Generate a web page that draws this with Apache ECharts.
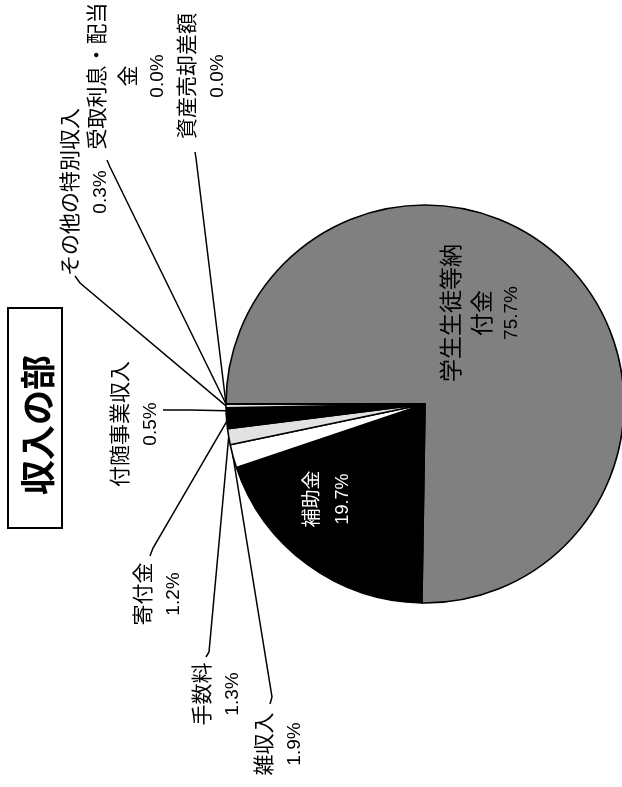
<!DOCTYPE html>
<html>
<head>
<meta charset="utf-8">
<title>収入の部</title>
<script src="https://cdn.jsdelivr.net/npm/echarts@6/dist/echarts.min.js"></script>
<style>
  html, body { margin: 0; padding: 0; background: #fff; }
  #chart { width: 622px; height: 787px; }
</style>
</head>
<body>
<div id="chart"></div>
<script>
// 収入の部 構成比（%）
const categories = ['学生生徒等納付金', '補助金', '雑収入', '手数料', '寄付金', '付随事業収入', 'その他の特別収入', '受取利息・配当金', '資産売却差額']
const shares = [75.7, 19.7, 1.9, 1.3, 1.2, 0.5, 0.3, 0.0, 0.0]
const sliceColors = ['#808080', '#000', '#fff', '#e2e2e2', '#000', '#000', '#e2e2e2', '#fff', '#fff']

// ラベルブロックの中心と引出線の折れ点・終点（画面座標）
const labelSpots = [
  { x: 481, y: 313 },
  { x: 327, y: 499 },
  { x: 279, y: 744, line: [[272, 697], [270, 704]] },
  { x: 217, y: 694, line: [[209, 652], [206, 657]] },
  { x: 158, y: 594, line: [[153, 548], [150, 556]] },
  { x: 135, y: 424, line: [[190, 410], [163, 410]] },
  { x: 85, y: 192, line: [[80, 283], [75, 276]] },
  { x: 127, y: 76, line: [[110, 167], [107, 160]] },
  { x: 202, y: 76, line: [[196, 158], [195, 152]] }
]

// 長い項目名の改行位置
const wrapAt = { '学生生徒等納付金': 6, '受取利息・配当金': 7 }

const jpFont = '"Noto Sans CJK JP", sans-serif'
const numFont = '"Liberation Sans Narrow", "Arial Narrow", "Liberation Sans", sans-serif'

const chart = echarts.init(document.getElementById('chart'))

const splitName = (name) => {
  const n = wrapAt[name]
  return n ? [name.slice(0, n), name.slice(n)] : [name]
}

const option = {
  animation: false,
  backgroundColor: '#fff',
  graphic: [
    {
      type: 'rect',
      shape: { x: 8, y: 308, width: 54, height: 220 },
      style: { fill: '#fff', stroke: '#000', lineWidth: 2 }
    },
    {
      type: 'text',
      x: 38,
      y: 425,
      rotation: Math.PI / 2,
      style: {
        text: '収入の部',
        fontFamily: jpFont,
        fontSize: 35,
        fontWeight: 'bold',
        fill: '#000',
        align: 'center',
        verticalAlign: 'middle'
      }
    }
  ],
  series: [
    {
      type: 'pie',
      center: [425, 404],
      radius: 199,
      startAngle: 180,
      clockwise: true,
      avoidLabelOverlap: false,
      emphasis: { disabled: true },
      itemStyle: { borderColor: '#000', borderWidth: 1.6 },
      label: {
        show: true,
        position: 'outside',
        formatter: (p) => {
          const key = p.dataIndex === 0 ? 'g' : p.dataIndex === 1 ? 's' : 'o'
          const lines = splitName(p.name).map((s) => `{${key}N|${s}}`)
          lines.push(`{${key}P|${p.value.toFixed(1)}%}`)
          return lines.join('\n')
        },
        rich: {
          oN: { fontFamily: jpFont, fontSize: 21, lineHeight: 31, color: '#000' },
          oP: { fontFamily: numFont, fontSize: 19, lineHeight: 31, color: '#000' },
          gN: { fontFamily: jpFont, fontSize: 23, lineHeight: 31, color: '#000' },
          gP: { fontFamily: '"Liberation Sans", sans-serif', fontSize: 19, lineHeight: 31, color: '#000' },
          sN: { fontFamily: jpFont, fontSize: 19, lineHeight: 33, color: '#fff' },
          sP: { fontFamily: '"Liberation Sans", sans-serif', fontSize: 18, lineHeight: 33, color: '#fff' }
        }
      },
      labelLine: {
        show: true,
        lineStyle: { color: '#000', width: 1.5 }
      },
      labelLayout: (params) => {
        const spot = labelSpots[params.dataIndex]
        const out = {
          x: spot.x,
          y: spot.y,
          rotate: 90,
          align: 'center',
          verticalAlign: 'middle'
        }
        if (spot.line && params.labelLinePoints) {
          out.labelLinePoints = [params.labelLinePoints[0], spot.line[0], spot.line[1]]
        }
        return out
      },
      data: categories.map((name, i) => ({
        name,
        value: shares[i],
        itemStyle: { color: sliceColors[i] },
        labelLine: { show: i > 1 }
      }))
    }
  ]
}

chart.setOption(option)
</script>
</body>
</html>
